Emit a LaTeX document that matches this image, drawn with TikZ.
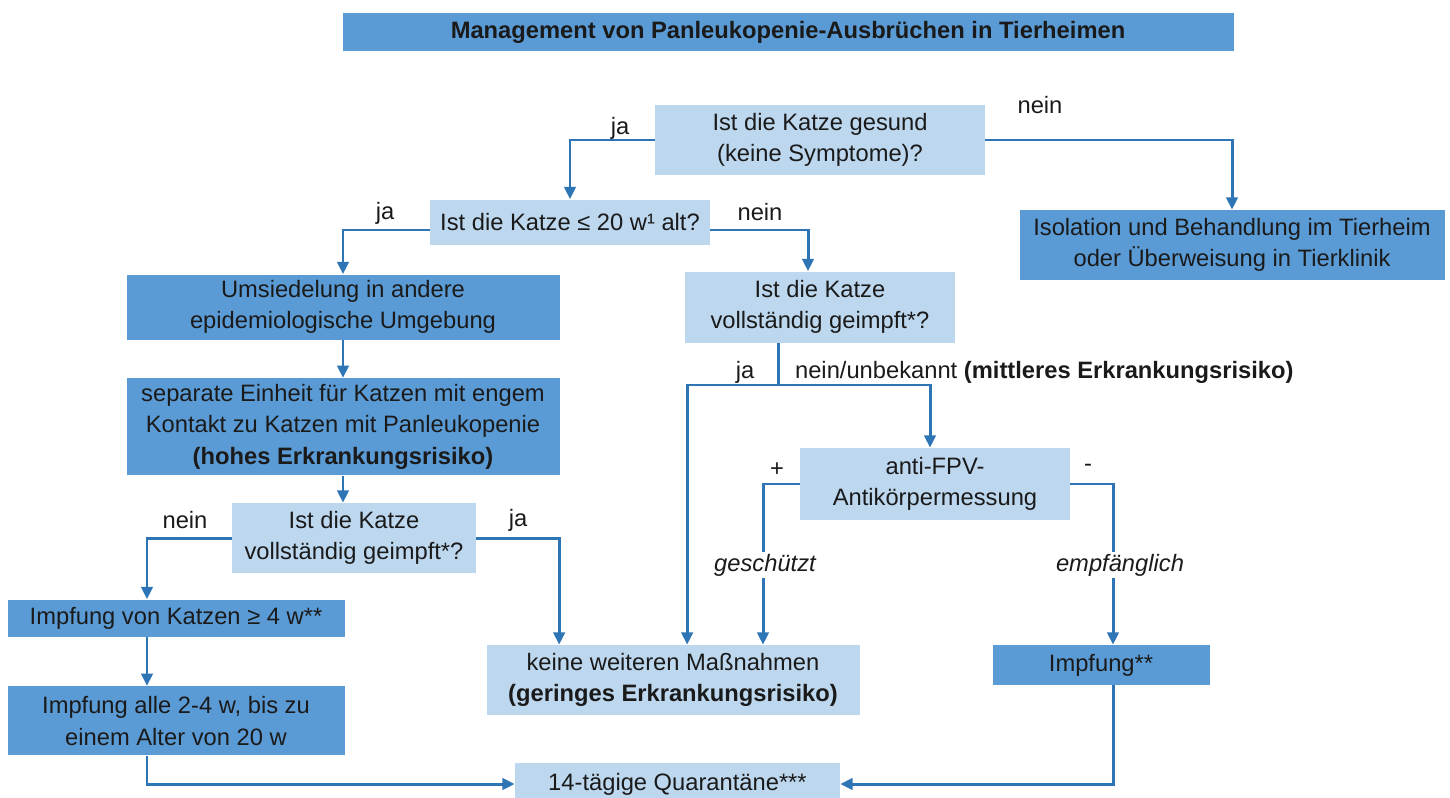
\documentclass[tikz,border=0pt]{standalone}
\usepackage{fontspec}
\setmainfont{Liberation Sans}
\usetikzlibrary{arrows.meta}
\usetikzlibrary{calc}
\usetikzlibrary{positioning}
\definecolor{boxdark}{HTML}{5B9BD5}
\definecolor{boxlight}{HTML}{BDD7EE}
\definecolor{linkblue}{HTML}{2E75B6}
\definecolor{inkgray}{HTML}{1A1A1A}

\begin{document}
\begin{tikzpicture}[
    font = \fontsize{13.5}{18}\selectfont, text = inkgray,
    darkbox/.style = {fill = boxdark, align = center, inner sep = 0pt},
    lightbox/.style = {fill = boxlight, align = center, inner sep = 0pt},
    link/.style = {draw = linkblue, line width = 1.7pt},
    arr/.style = {link, -{Triangle[width = 6.5pt, length = 7pt]}},
    lbl/.style = {inner sep = 1pt}
]
    \useasboundingbox[clip] (0,0) rectangle (29,-15.96);

    %\draw[help lines, opacity = 0.1] (0,0) grid (29,-16);

    \node (title) at (15.76,-0.64) [darkbox, minimum width = 17.82cm, minimum height = 0.76cm] {\textbf{Management von Panleukopenie-Ausbrüchen in Tierheimen}};

    \node (gesund) at (16.4,-2.8) [lightbox, minimum width = 6.6cm, minimum height = 1.4cm] {Ist die Katze gesund\\(keine Symptome)?};
    \node (alter) at (11.4,-4.44) [lightbox, minimum width = 5.6cm, minimum height = 0.9cm] {Ist die Katze ≤ 20 w¹ alt?};
    \node (isolation) at (24.64,-4.9) [darkbox, minimum width = 8.5cm, minimum height = 1.4cm] {Isolation und Behandlung im Tierheim\\oder Überweisung in Tierklinik};

    \node (umsiedlung) at (6.86,-6.14) [darkbox, minimum width = 8.66cm, minimum height = 1.3cm] {Umsiedelung in andere\\epidemiologische Umgebung};
    \node (einheit) [darkbox, minimum width = 8.66cm, minimum height = 1.94cm, below = 0.76cm of umsiedlung] {separate Einheit für Katzen mit engem\\Kontakt zu Katzen mit Panleukopenie\\\textbf{(hohes Erkrankungsrisiko)}};
    \node (geimpftL) at (7.08,-10.76) [lightbox, minimum width = 4.88cm, minimum height = 1.4cm] {Ist die Katze\\vollständig geimpft*?};
    \node (impfvier) at (3.52,-12.36) [darkbox, minimum width = 6.74cm, minimum height = 0.74cm] {Impfung von Katzen ≥ 4 w**};
    \node (impfalle) [darkbox, minimum width = 6.74cm, minimum height = 1.38cm, below = 0.98cm of impfvier] {Impfung alle 2-4 w, bis zu\\einem Alter von 20 w};

    \node (geimpftR) at (16.4,-6.14) [lightbox, minimum width = 5.4cm, minimum height = 1.42cm] {Ist die Katze\\vollständig geimpft*?};
    \node (antikoerper) at (18.7,-9.68) [lightbox, minimum width = 5.4cm, minimum height = 1.44cm] {anti-FPV-\\Antikörpermessung};
    \node (keine) at (13.46,-13.6) [lightbox, minimum width = 7.46cm, minimum height = 1.4cm] {keine weiteren Maßnahmen\\\textbf{(geringes Erkrankungsrisiko)}};
    \node (impfung) at (22.02,-13.3) [darkbox, minimum width = 4.34cm, minimum height = 0.8cm] {Impfung**};
    \node (quarantaene) at (13.55,-15.68) [lightbox, minimum width = 6.5cm, minimum height = 0.84cm] {14-tägige Quarantäne***};

    % branch labels
    \node (jaA) at (12.4,-2.56) [lbl] {ja};
    \node (neinA) at (20.8,-2.1) [lbl] {nein};
    \node (jaB) at (7.7,-4.26) [lbl] {ja};
    \node (neinB) at (15.2,-4.24) [lbl] {nein};
    \node (neinC) at (3.7,-10.4) [lbl] {nein};
    \node (jaC) at (10.36,-10.4) [lbl] {ja};
    \node (jaD) at (14.9,-7.44) [lbl] {ja};
    \node (neinD) at (15.86,-7.44) [lbl, anchor = west] {nein/unbekannt \textbf{(mittleres Erkrankungsrisiko)}};
    \node (plus) at (15.54,-9.4) [lbl] {+};
    \node (minus) at (21.76,-9.36) [lbl] {-};
    \node (geschuetzt) at (15.3,-11.3) [lbl, font = \fontsize{13.5}{18}\selectfont\itshape] {geschützt};
    \node (empfaenglich) at (22.4,-11.3) [lbl, font = \fontsize{13.5}{18}\selectfont\itshape] {empfänglich};

    \coordinate (split) at (15.56,-7.7);

    \draw[arr] (gesund.west) -| (alter.north);
    \draw[arr] (gesund.east) -| (isolation.north);
    \draw[arr] ([yshift = -0.16cm]alter.west) -| (umsiedlung.north);
    \draw[arr] ([yshift = -0.16cm]alter.east) -| ([xshift = -0.24cm]geimpftR.north);

    \draw[arr] (umsiedlung) -- (einheit);
    \draw[arr] (einheit.south) -- (einheit.south |- geimpftL.north);
    \draw[arr] (geimpftL.west) -| ([xshift = -0.58cm]impfvier.north);
    \draw[arr] (geimpftL.east) -| ([xshift = 1.46cm]keine.north west);
    \draw[arr] ([xshift = -0.58cm]impfvier.south) -- ([xshift = -0.58cm]impfalle.north);
    \draw[arr] ([xshift = -0.58cm]impfalle.south) |- (quarantaene.west);

    \draw[link] (geimpftR.south -| split) -- (split);
    \draw[arr] ($(split)+(-1.8,0)$) -| ([xshift = 4.02cm]keine.north west);
    \draw[arr] ($(split)+(-1.8,0)$) -| ($(split)+(3.04,0)$) -- (antikoerper.north -| {$(split)+(3.04,0)$});
    \draw[link] (antikoerper.west) -| (geschuetzt.north -| {$(split)+(-0.3,0)$});
    \draw[arr] (geschuetzt.south -| {$(split)+(-0.3,0)$}) -- (keine.north -| {$(split)+(-0.3,0)$});
    \draw[link] (antikoerper.east) -| ([xshift = -0.14cm]empfaenglich.north);
    \draw[arr] ([xshift = -0.14cm]empfaenglich.south) -- ([xshift = -0.14cm]empfaenglich.south |- impfung.north);
    \draw[arr] ([xshift = -0.14cm]empfaenglich.south |- impfung.south) |- (quarantaene.east);

\end{tikzpicture}
\end{document}
